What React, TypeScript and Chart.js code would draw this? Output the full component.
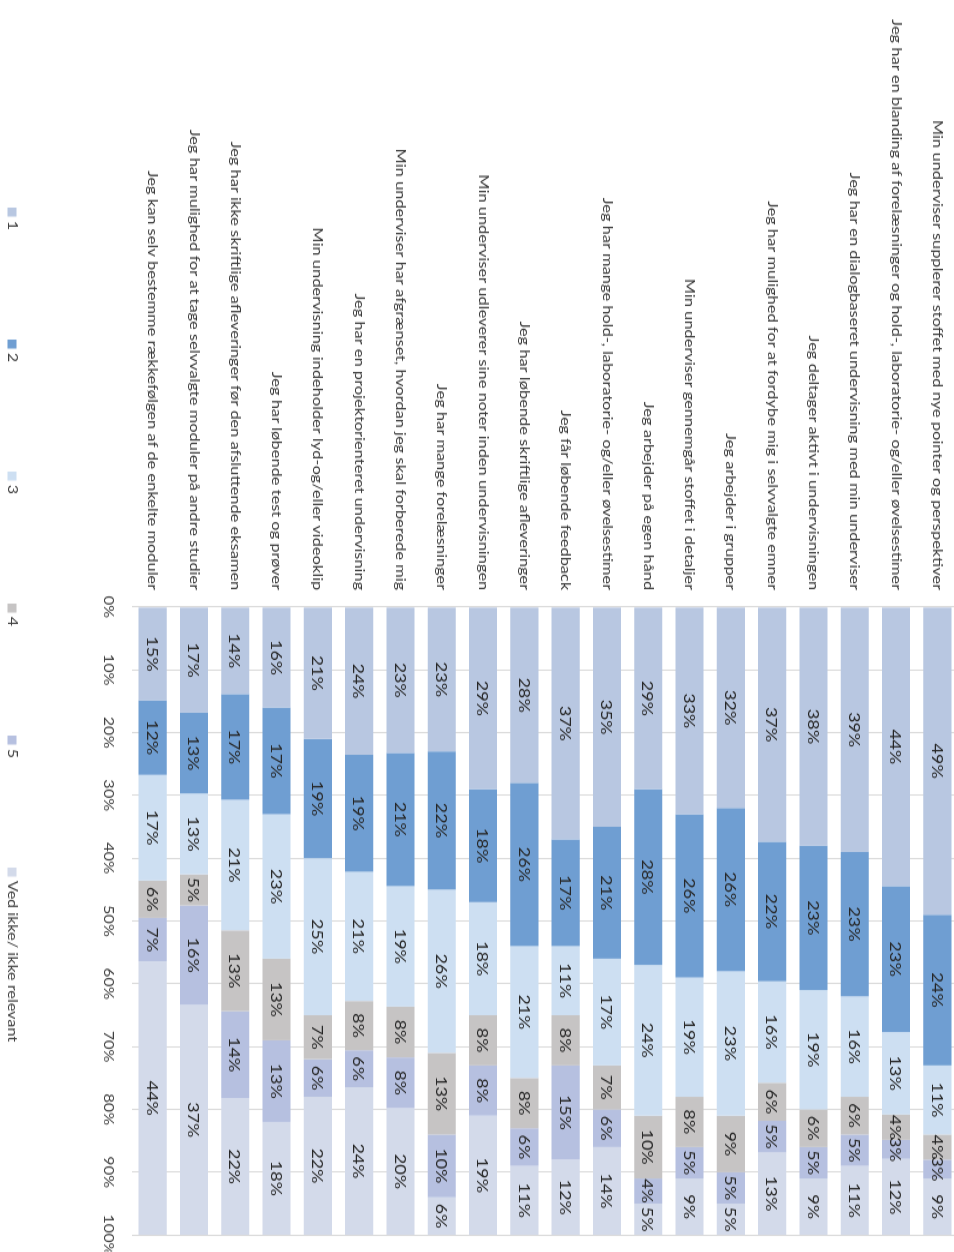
import { useEffect, useRef } from "react";
import { Chart, registerables } from "chart.js";

Chart.register(...registerables);

const categories = [
  "Min underviser supplerer stoffet med nye pointer og perspektiver",
  "Jeg har en blanding af forelæsninger og hold-, laboratorie- og/eller øvelsestimer",
  "Jeg har en dialogbaseret undervisning med min underviser",
  "Jeg deltager aktivt i undervisningen",
  "Jeg har mulighed for at fordybe mig i selvvalgte emner",
  "Jeg arbejder i grupper",
  "Min underviser gennemgår stoffet i detaljer",
  "Jeg arbejder på egen hånd",
  "Jeg har mange hold-, laboratorie- og/eller øvelsestimer",
  "Jeg får løbende feedback",
  "Jeg har løbende skriftlige afleveringer",
  "Min underviser udleverer sine noter inden undervisningen",
  "Jeg har mange forelæsninger",
  "Min underviser har afgrænset, hvordan jeg skal forberede mig",
  "Jeg har en projektorienteret undervisning",
  "Min undervisning indeholder lyd-og/eller videoklip",
  "Jeg har løbende test og prøver",
  "Jeg har ikke skriftlige afleveringer før den afsluttende eksamen",
  "Jeg har mulighed for at tage selvvalgte moduler på andre studier",
  "Jeg kan selv bestemme rækkefølgen af de enkelte moduler",
];

const seriesNames = ["1", "2", "3", "4", "5", "Ved ikke/ ikke relevant"];

const s1 = [49, 44, 39, 38, 37, 32, 33, 29, 35, 37, 28, 29, 23, 23, 24, 21, 16, 14, 17, 15];
const s2 = [24, 23, 23, 23, 22, 26, 26, 28, 21, 17, 26, 18, 22, 21, 19, 19, 17, 17, 13, 12];
const s3 = [11, 13, 16, 19, 16, 23, 19, 24, 17, 11, 21, 18, 26, 19, 21, 25, 23, 21, 13, 17];
const s4 = [4, 4, 6, 6, 6, 9, 8, 10, 7, 8, 8, 8, 13, 8, 8, 7, 13, 13, 5, 6];
const s5 = [3, 3, 5, 5, 5, 5, 5, 4, 6, 15, 6, 8, 10, 8, 6, 6, 13, 14, 16, 7];
const s6 = [9, 12, 11, 9, 13, 5, 9, 5, 14, 12, 11, 19, 6, 20, 24, 22, 18, 22, 37, 44];

const seriesColors = ["#b8c7e1", "#6f9ed2", "#cddff2", "#c6c4c4", "#b6c0e0", "#d3daea"];

const S = 1.2; // horizontal stretch of the original chart
const W = Math.round(1252 / S);
const H = 958;
const FONT = "Lato, 'Open Sans', sans-serif";

const valueLabels = {
  id: "valueLabels",
  afterDatasetsDraw(chart: any) {
    const ctx = chart.ctx;
    ctx.save();
    ctx.font = `15px ${FONT}`;
    ctx.fillStyle = "#262626";
    ctx.textAlign = "center";
    ctx.textBaseline = "middle";
    chart.data.datasets.forEach((ds: any, di: number) => {
      const meta = chart.getDatasetMeta(di);
      meta.data.forEach((el: any, i: number) => {
        const raw = ds.rawValues[i];
        if (!raw) return;
        const { x, y, base } = el.getProps(["x", "y", "base"], true);
        ctx.fillText(`${raw}%`, (x + base) / 2, y + 1);
      });
    });
    ctx.restore();
  },
};

const customLegend = {
  id: "customLegend",
  afterDraw(chart: any) {
    const ctx = chart.ctx;
    ctx.save();
    ctx.font = `13.5px ${FONT}`;
    ctx.textBaseline = "middle";
    ctx.textAlign = "left";
    chart.data.datasets.forEach((ds: any, i: number) => {
      const x = 173 + i * 110;
      const y = 946;
      ctx.fillStyle = ds.backgroundColor;
      ctx.fillRect(x, y - 4.5, 7.5, 9);
      ctx.fillStyle = "#404040";
      ctx.fillText(ds.label, x + 11, y);
    });
    ctx.restore();
  },
};

export default function App() {
  const ref = useRef<HTMLCanvasElement | null>(null);

  useEffect(() => {
    if (!ref.current) return;
    const series = [s1, s2, s3, s4, s5, s6];
    const totals = categories.map((_, i) => series.reduce((a, s) => a + s[i], 0));
    const chart = new Chart(ref.current, {
      type: "bar",
      data: {
        labels: categories,
        datasets: series.map((s, k) => ({
          label: seriesNames[k],
          data: s.map((v, i) => (v / totals[i]) * 100),
          rawValues: s,
          backgroundColor: seriesColors[k],
          borderWidth: 0,
          barPercentage: 0.68,
          categoryPercentage: 1,
        })) as any,
      },
      options: {
        indexAxis: "y",
        responsive: false,
        animation: false,
        devicePixelRatio: 1,
        layout: { padding: { left: 0, right: W - 1235 / S, top: 0, bottom: 0 } },
        plugins: {
          legend: { display: false },
          tooltip: { enabled: false },
        },
        scales: {
          x: {
            stacked: true,
            min: 0,
            max: 100,
            border: { display: false },
            grid: { color: "#d9d9d9", drawTicks: false },
            ticks: {
              stepSize: 10,
              padding: 16,
              color: "#404040",
              font: { family: FONT, size: 13.5 },
              callback: (v: any) => `${v}%`,
            },
            afterFit: (scale: any) => {
              scale.height = H - 826;
              scale.paddingLeft = 0;
              scale.paddingRight = 0;
            },
          } as any,
          y: {
            stacked: true,
            border: { display: false },
            grid: { display: false, drawTicks: false },
            ticks: {
              autoSkip: false,
              padding: 14,
              color: "#3a3a3a",
              font: { family: FONT, size: 13.7 },
            },
            afterFit: (scale: any) => {
              scale.width = 607 / S;
              scale.paddingTop = 0;
              scale.paddingBottom = 0;
            },
          } as any,
        },
      },
      plugins: [valueLabels, customLegend],
    });
    return () => chart.destroy();
  }, []);

  return (
    <div
      style={{
        position: "fixed",
        left: 0,
        top: 0,
        width: W,
        height: H,
        transformOrigin: "0 0",
        transform: `translateX(${H}px) rotate(90deg) scaleX(${S})`,
        background: "#fff",
      }}
    >
      <canvas ref={ref} width={W} height={H} style={{ width: W, height: H, display: "block" }} />
    </div>
  );
}
